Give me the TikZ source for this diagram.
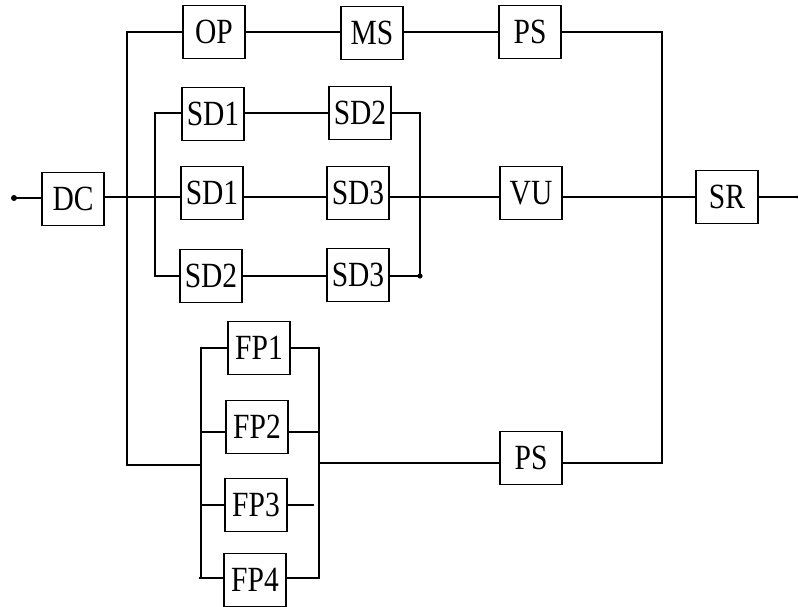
\documentclass[tikz,border=0pt]{standalone}
\usepackage{fontspec}
\setmainfont{Liberation Serif}
\newcommand{\tallt}[1]{\scalebox{1}[1.2]{#1}}
\begin{document}
\begin{tikzpicture}[x=1pt,y=-1pt,
  blk/.style={draw, line width=1.1pt, minimum width=62pt, minimum height=53pt, inner sep=0pt, font=\fontsize{29.5}{30}\selectfont},
  wire/.style={line width=1.1pt},
  every path/.style={line width=1.1pt}]
\useasboundingbox (0,0) rectangle (798,607);
% boxes
\node[blk] (DC) at (73,199) {\tallt{DC}};
\node[blk] (OP) at (214,32) {\tallt{OP}};
\node[blk] (MS) at (372,33) {\tallt{MS}};
\node[blk] (PSa) at (530,32) {\tallt{PS}};
\node[blk] (SDa1) at (213,114) {\tallt{SD1}};
\node[blk] (SDa2) at (360,113) {\tallt{SD2}};
\node[blk] (SDb1) at (212,193) {\tallt{SD1}};
\node[blk] (SDb3) at (358,193) {\tallt{SD3}};
\node[blk] (SDc2) at (211,276) {\tallt{SD2}};
\node[blk] (SDc3) at (358,275) {\tallt{SD3}};
\node[blk] (VU) at (531,193) {\tallt{VU}};
\node[blk] (SR) at (727,197) {\tallt{SR}};
\node[blk] (PSb) at (531,458) {\tallt{PS}};
\node[blk] (FP1) at (259,348) {\tallt{FP1}};
\node[blk] (FP2) at (257,427) {\tallt{FP2}};
\node[blk] (FP3) at (256,505) {\tallt{FP3}};
\node[blk] (FP4) at (255,580) {\tallt{FP4}};
% coordinates
\coordinate (in) at (14,198);
\coordinate (out) at (797,197);
\coordinate (Ltop) at (127,32);
\coordinate (Lbot) at (127,465);
\coordinate (Sa) at (155,113);
\coordinate (Sc) at (155,276);
\coordinate (Ra) at (420,113);
\coordinate (Rc) at (420,276);
\coordinate (Rtop) at (662,32);
\coordinate (Rbot) at (662,463);
\coordinate (Fl1) at (201,348);
\coordinate (Fl4) at (199,578);
\coordinate (Flm) at (201,465);
\coordinate (Fr1) at (319,348);
\coordinate (Fr2) at (319,432);
\coordinate (Fr3) at (314,505);
\coordinate (Fr4) at (319,578);
\coordinate (Frm) at (319,463);
% dots
\fill (in) circle [radius=3pt];
\fill (Rc) circle [radius=2.6pt];
\fill (out) circle [radius=1.5pt];
% main line
\draw[wire] (in) -- (DC.west |- in);
\draw[wire] (DC.east |- 0,197) -- (SDb1.west |- 0,197);
\draw[wire] (SDb1.east |- 0,197) -- (SDb3.west |- 0,197);
\draw[wire] (SDb3.east |- 0,197) -- (VU.west |- 0,197);
\draw[wire] (VU.east |- 0,197) -- (SR.west);
\draw[wire] (SR.east) -- (out);
% left bus
\draw[wire] (OP.west) -- (Ltop) -- (Lbot) -- (Flm);
% top row
\draw[wire] (OP.east) -- (MS.west |- OP.east);
\draw[wire] (MS.east |- PSa.west) -- (PSa.west);
\draw[wire] (PSa.east) -- (Rtop) -- (Rbot) -- (PSb.east |- Rbot);
% SD block
\draw[wire] (SDa1.west |- Sa) -- (Sa) -- (Sc) -- (SDc2.west);
\draw[wire] (SDa1.east |- Sa) -- (SDa2.west);
\draw[wire] (SDc2.east) -- (SDc3.west |- SDc2.east);
\draw[wire] (SDa2.east) -- (Ra) -- (Rc) -- (SDc3.east |- Rc);
% FP block
\draw[wire] (FP1.west) -- (Fl1) -- (Fl1 |- Fl4) -- (Fl4);
\draw[wire] (Fl1 |- Fr2) -- (FP2.west |- Fr2);
\draw[wire] (Fl1 |- FP3.west) -- (FP3.west);
\draw[wire] (Fl4) -- (FP4.west |- Fl4);
\draw[wire] (FP1.east) -- (Fr1) -- (Fr4) -- (FP4.east |- Fr4);
\draw[wire] (FP2.east |- Fr2) -- (Fr2);
\draw[wire] (FP3.east) -- (Fr3);
\draw[wire] (Frm) -- (PSb.west |- Frm);
\end{tikzpicture}
\end{document}
